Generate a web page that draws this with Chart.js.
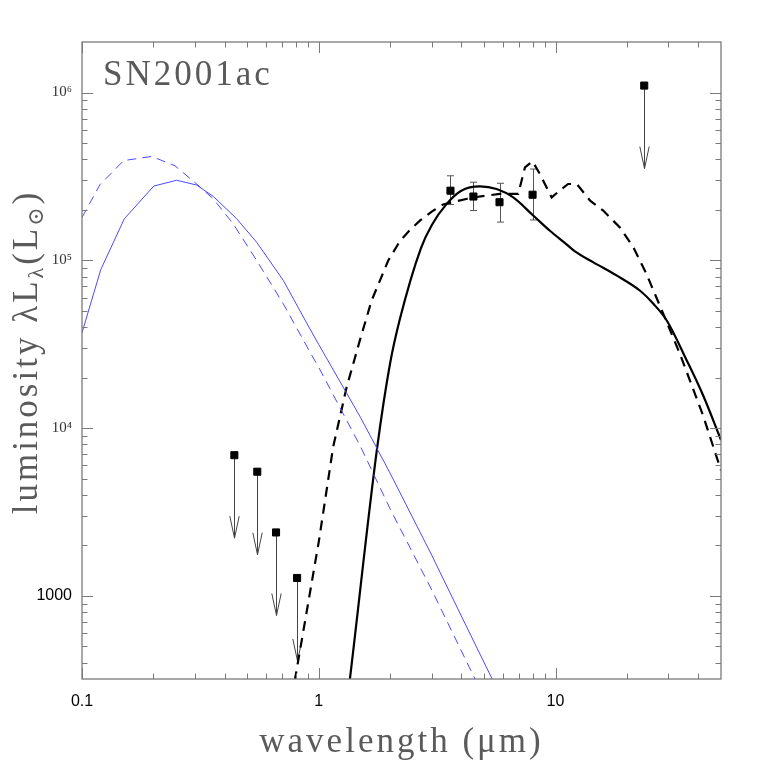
<!DOCTYPE html>
<html>
<head>
<meta charset="utf-8">
<script src="https://cdn.jsdelivr.net/npm/chart.js@4.4.1/dist/chart.umd.min.js"></script>
<style>
  html, body { margin: 0; padding: 0; background: #fff; }
  #wrap { width: 761px; height: 761px; position: relative; }
</style>
</head>
<body>
<div id="wrap"><canvas id="sed"></canvas></div>
<script>
/* SN2001ac SED (micron, L_sun) */

// hot component, solid blue
const hotSolidWave = [0.1, 0.12, 0.151, 0.201, 0.251, 0.305, 0.359, 0.45, 0.547, 0.708, 0.918, 1.0, 1.5, 2.0, 3.0, 4.0, 5.4, 6.0];
const hotSolidLum  = [3.7e4, 8.8e4, 1.77e5, 2.77e5, 3.0e5, 2.81e5, 2.4e5, 1.77e5, 1.28e5, 7.6e4, 3.9e4, 3.15e4, 1.16e4, 5.4e3, 1750, 760, 320, 234];

// hot component, dashed blue
const hotDashWave = [0.1, 0.119, 0.15, 0.197, 0.247, 0.305, 0.359, 0.435, 0.547, 0.708, 0.918, 1.0, 1.5, 2.0, 3.0, 4.57, 5.0];
const hotDashLum  = [1.8e5, 2.82e5, 3.93e5, 4.16e5, 3.66e5, 2.85e5, 2.32e5, 1.65e5, 9.97e4, 5.51e4, 2.84e4, 2.3e4, 7.78e3, 3.31e3, 1087, 320, 247];

// dust model, solid black
const dustSolidWave = [1.3, 1.354, 1.766, 2.0, 2.2, 2.7, 3.0, 3.47, 4.0, 4.8, 5.64, 6.63, 8.05, 9.47, 11.1, 12.0, 14.4, 18.1, 22.7, 25.9, 29.5, 35.8, 42, 50];
const dustSolidLum  = [200, 320, 7.7e3, 2.42e4, 4.45e4, 1.18e5, 1.62e5, 2.17e5, 2.6e5, 2.76e5, 2.66e5, 2.37e5, 1.85e5, 1.5e5, 1.25e5, 1.14e5, 9.75e4, 8.13e4, 6.61e4, 5.51e4, 4.38e4, 2.54e4, 1.57e4, 8.5e3];

// dust model, dashed black
const dustDashWave = [0.75, 0.794, 1.0, 1.15, 1.312, 1.5, 1.673, 1.966, 2.2, 2.4, 2.68, 3.0, 3.35, 3.8, 4.2, 4.49, 5.82, 6.96, 7.43, 8.0, 8.59, 9.63, 10.4, 11.3, 12.3, 14.0, 15.9, 18.7, 21.3, 24.2, 28.5, 33.5, 42, 50];
const dustDashLum  = [196, 320, 2.1e3, 7.7e3, 1.76e4, 3.43e4, 5.77e4, 9.98e4, 1.3e5, 1.49e5, 1.73e5, 1.95e5, 2.15e5, 2.25e5, 2.32e5, 2.37e5, 2.49e5, 2.49e5, 3.58e5, 3.89e5, 3.27e5, 2.37e5, 2.6e5, 2.85e5, 2.85e5, 2.27e5, 1.98e5, 1.57e5, 1.2e5, 8.32e4, 4.81e4, 2.78e4, 1.19e4, 5.6e3];

// IRAC detections with error bars
const detWave = [3.6, 4.5, 5.8, 8.0];
const detLum  = [2.6e5, 2.4e5, 2.22e5, 2.46e5];
const detHi   = [3.19e5, 2.92e5, 2.88e5, 3.5e5];
const detLo   = [2.15e5, 1.98e5, 1.69e5, 1.74e5];

// upper limits (B V R I, 24um)
const limWave = [0.44, 0.55, 0.66, 0.81, 23.7];
const limLum  = [6.9e3, 5.5e3, 2.39e3, 1.28e3, 1.1e6];

// axes
const xMin = 0.1, xMax = 50;
const yMin = 320, yMax = 2.0e6;
const xLabelTicks = [0.1, 1, 10];
const xTickLabels = ['0.1', '1', '10'];
const yLabelTicks = [1000, 1e4, 1e5, 1e6];
const yTickLabels = ['1000', '10\u2074', '10\u2075', '10\u2076'];

const pts = (xs, ys) => xs.map((v, i) => ({ x: v, y: ys[i] }));

function logTicks(min, max, majors) {
  const out = majors.map(v => ({ value: v, major: true }));
  for (let e = Math.floor(Math.log10(min)); e <= Math.ceil(Math.log10(max)); e++) {
    for (let k = 2; k <= 9; k++) {
      const v = Number((k * Math.pow(10, e)).toPrecision(6));
      if (v > min && v < max) out.push({ value: v, major: false });
    }
  }
  return out.sort((a, b) => a.value - b.value);
}

const GRAY = '#7a7a7a';
const TEXT_GRAY = '#5a5a5a';
const SERIF = '"Liberation Serif", "DejaVu Serif", serif';

/* frame with inward ticks on all four sides */
const framePlugin = {
  id: 'frame',
  afterDraw(chart) {
    const { ctx, chartArea: a, scales: { x, y } } = chart;
    ctx.save();
    ctx.strokeStyle = GRAY;
    ctx.lineWidth = 1.3;
    ctx.strokeRect(a.left, a.top, a.right - a.left, a.bottom - a.top);
    ctx.lineWidth = 1;
    ctx.beginPath();
    x.ticks.forEach(t => {
      const px = Math.round(x.getPixelForValue(t.value)) + 0.5;
      const len = t.major ? 11 : 5.5;
      ctx.moveTo(px, a.bottom); ctx.lineTo(px, a.bottom - len);
      ctx.moveTo(px, a.top); ctx.lineTo(px, a.top + len);
    });
    y.ticks.forEach(t => {
      const py = Math.round(y.getPixelForValue(t.value)) + 0.5;
      const len = t.major ? 11 : 5.5;
      ctx.moveTo(a.left, py); ctx.lineTo(a.left + len, py);
      ctx.moveTo(a.right, py); ctx.lineTo(a.right - len, py);
    });
    ctx.stroke();
    ctx.restore();
  }
};

/* error bars and upper-limit arrows */
const markPlugin = {
  id: 'marks',
  beforeDatasetsDraw(chart) {
    const { ctx, scales: { x, y } } = chart;
    ctx.save();
    ctx.strokeStyle = '#555';
    ctx.lineWidth = 1;
    ctx.beginPath();
    detWave.forEach((w, i) => {
      const px = Math.round(x.getPixelForValue(w)) + 0.5;
      const top = y.getPixelForValue(detHi[i]);
      const bot = y.getPixelForValue(detLo[i]);
      ctx.moveTo(px, top); ctx.lineTo(px, bot);
      ctx.moveTo(px - 3.5, top); ctx.lineTo(px + 3.5, top);
      ctx.moveTo(px - 3.5, bot); ctx.lineTo(px + 3.5, bot);
    });
    ctx.stroke();

    ctx.strokeStyle = '#444';
    ctx.beginPath();
    limWave.forEach((w, i) => {
      const px = Math.round(x.getPixelForValue(w)) + 0.5;
      const py = y.getPixelForValue(limLum[i]);
      const tip = py + 83;
      ctx.moveTo(px, py); ctx.lineTo(px, tip);
      ctx.moveTo(px - 4.7, tip - 22); ctx.lineTo(px, tip); ctx.lineTo(px + 4.7, tip - 22);
    });
    ctx.stroke();
    ctx.restore();
  }
};

/* object name and axis titles */
function measurePieces(ctx, pieces, big, small, spacing) {
  let w = 0;
  pieces.forEach(p => {
    ctx.font = (p.sub ? small : big) + 'px ' + SERIF;
    ctx.letterSpacing = spacing + 'px';
    p.w = ctx.measureText(p.t).width;
    w += p.w;
  });
  return w;
}

const textPlugin = {
  id: 'texts',
  afterDraw(chart) {
    const { ctx, chartArea: a } = chart;
    ctx.save();
    ctx.fillStyle = TEXT_GRAY;
    ctx.textBaseline = 'alphabetic';
    ctx.textAlign = 'left';

    ctx.font = '35px ' + SERIF;
    ctx.letterSpacing = '3px';
    ctx.fillText('SN2001ac', a.left + 21, 85);

    const xt = 'wavelength (\u03bcm)';
    const xw = ctx.measureText(xt).width;
    ctx.fillText(xt, (a.left + a.right) / 2 - xw / 2, 752);

    const pieces = [
      { t: 'luminosity \u03bbL', sub: false },
      { t: '\u03bb', sub: true },
      { t: '(L', sub: false },
      { t: '\u2299', sub: true },
      { t: ')', sub: false }
    ];
    const total = measurePieces(ctx, pieces, 35, 22, 3);
    ctx.translate(37, 352);
    ctx.rotate(-Math.PI / 2);
    let cx = -total / 2;
    pieces.forEach(p => {
      ctx.font = (p.sub ? 22 : 35) + 'px ' + SERIF;
      ctx.letterSpacing = '3px';
      ctx.fillText(p.t, cx, p.sub ? 6 : 0);
      cx += p.w;
    });
    ctx.restore();
  }
};

const lineDs = (label, xs, ys, color, width, dash, mono) => ({
  label,
  data: pts(xs, ys),
  showLine: true,
  borderColor: color,
  borderWidth: width,
  borderDash: dash,
  pointRadius: 0,
  fill: false,
  tension: 0,
  cubicInterpolationMode: mono ? 'monotone' : 'default',
  order: 1
});

new Chart(document.getElementById('sed'), {
  type: 'scatter',
  data: {
    datasets: [
      {
        label: 'detections',
        data: pts(detWave, detLum),
        pointStyle: 'rect',
        pointRadius: 5,
        backgroundColor: '#000',
        borderColor: '#000',
        borderWidth: 1,
        order: 0
      },
      {
        label: 'upper limits',
        data: pts(limWave, limLum),
        pointStyle: 'rect',
        pointRadius: 5,
        backgroundColor: '#000',
        borderColor: '#000',
        borderWidth: 1,
        order: 0
      },
      lineDs('hot solid', hotSolidWave, hotSolidLum, '#4a4aff', 1, [], false),
      lineDs('hot dashed', hotDashWave, hotDashLum, '#4a4aff', 1, [9, 6], false),
      lineDs('dust solid', dustSolidWave, dustSolidLum, '#000', 2.2, [], true),
      lineDs('dust dashed', dustDashWave, dustDashLum, '#000', 2.2, [10, 7], false)
    ]
  },
  options: {
    responsive: true,
    maintainAspectRatio: false,
    animation: false,
    events: [],
    layout: { padding: { top: 42, right: 40, left: 0, bottom: 0 } },
    plugins: {
      legend: { display: false },
      tooltip: { enabled: false }
    },
    scales: {
      x: {
        type: 'logarithmic',
        min: xMin,
        max: xMax,
        grid: { display: false, drawTicks: false },
        border: { display: false },
        afterBuildTicks: (s) => { s.ticks = logTicks(xMin, xMax, xLabelTicks); },
        afterFit: (s) => { s.height = 82; },
        ticks: {
          autoSkip: false,
          maxRotation: 0,
          padding: 13,
          color: '#000',
          font: { family: '"Liberation Sans", Arial, sans-serif', size: 16 },
          callback: (v) => {
            const i = xLabelTicks.indexOf(v);
            return i < 0 ? '' : xTickLabels[i];
          }
        }
      },
      y: {
        type: 'logarithmic',
        min: yMin,
        max: yMax,
        grid: { display: false, drawTicks: false },
        border: { display: false },
        afterBuildTicks: (s) => { s.ticks = logTicks(yMin, yMax, yLabelTicks); },
        afterFit: (s) => { s.width = 82; },
        ticks: {
          autoSkip: false,
          padding: 10,
          color: (c) => (c.tick && c.tick.value === 1000 ? '#000' : '#333'),
          font: (c) => (c.tick && c.tick.value === 1000
            ? { family: '"Liberation Sans", Arial, sans-serif', size: 16 }
            : { family: SERIF, size: 15 }),
          callback: (v) => {
            const i = yLabelTicks.indexOf(v);
            return i < 0 ? '' : yTickLabels[i];
          }
        }
      }
    }
  },
  plugins: [markPlugin, framePlugin, textPlugin]
});
</script>
</body>
</html>
